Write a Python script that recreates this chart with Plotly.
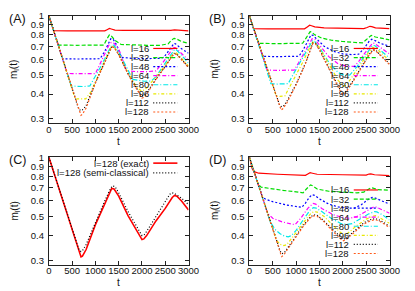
import math
import plotly.graph_objects as go

# ---------------- data ----------------
LABELS = ["l=16", "l=32", "l=48", "l=64", "l=80", "l=96", "l=112", "l=128"]
T_TICKS = [0, 500, 1000, 1500, 2000, 2500, 3000]
M_TICKS = [0.3, 0.4, 0.5, 0.6, 0.7, 0.8, 0.9, 1.0]
M_TICK_TEXT = ["0.3", "0.4", "0.5", "0.6", "0.7", "0.8", "0.9", "1"]

# Panel A
A_T = [
    [0, 100, 400, 800, 1200, 1250, 1300, 1340, 1420, 1600, 2000, 2500, 2620, 2700, 2780, 3000],
    [0, 205, 600, 1000, 1180, 1250, 1300, 1340, 1420, 1550, 1800, 2100, 2400, 2560, 2640, 2690, 2730, 2850, 3000],
    [0, 295, 600, 900, 1100, 1200, 1280, 1330, 1380, 1450, 1560, 1800, 2100, 2400, 2470, 2600, 2690, 2720, 2850, 3000],
    [0, 390, 500, 700, 1000, 1100, 1200, 1290, 1340, 1400, 1500, 1670, 1900, 2100, 2300, 2450, 2600, 2680, 2720, 2850, 3000],
    [0, 300, 480, 600, 750, 880, 1000, 1100, 1200, 1300, 1350, 1400, 1500, 1700, 1800, 2050, 2200, 2300, 2450, 2600, 2700, 2750, 2850, 3000],
    [0, 300, 560, 600, 700, 790, 900, 1000, 1100, 1200, 1300, 1350, 1400, 1500, 1700, 1900, 1990, 2050, 2100, 2300, 2500, 2650, 2700, 2750, 2850, 3000],
    [0, 300, 600, 640, 690, 740, 800, 1000, 1200, 1300, 1350, 1400, 1500, 1700, 1900, 1970, 2000, 2040, 2100, 2300, 2500, 2650, 2700, 2750, 2850, 3000],
    [0, 300, 600, 660, 690, 720, 800, 1000, 1200, 1300, 1350, 1400, 1500, 1700, 1900, 1970, 2000, 2040, 2100, 2300, 2500, 2650, 2700, 2750, 2850, 3000],
]
A_M = [
    [1, 0.84, 0.838, 0.837, 0.838, 0.85, 0.862, 0.857, 0.845, 0.842, 0.84, 0.84, 0.843, 0.847, 0.843, 0.838],
    [1, 0.71, 0.708, 0.707, 0.71, 0.765, 0.80, 0.79, 0.75, 0.715, 0.71, 0.708, 0.708, 0.72, 0.755, 0.768, 0.765, 0.74, 0.725],
    [1, 0.605, 0.603, 0.602, 0.605, 0.66, 0.73, 0.765, 0.76, 0.715, 0.615, 0.607, 0.606, 0.608, 0.615, 0.68, 0.724, 0.72, 0.68, 0.645],
    [1, 0.51, 0.508, 0.507, 0.508, 0.57, 0.64, 0.71, 0.732, 0.725, 0.68, 0.525, 0.52, 0.52, 0.525, 0.58, 0.65, 0.69, 0.688, 0.645, 0.595],
    [1, 0.597, 0.44, 0.438, 0.437, 0.44, 0.49, 0.545, 0.605, 0.675, 0.712, 0.708, 0.655, 0.53, 0.475, 0.465, 0.466, 0.49, 0.55, 0.625, 0.675, 0.668, 0.63, 0.575],
    [1, 0.597, 0.38, 0.378, 0.377, 0.378, 0.41, 0.465, 0.525, 0.595, 0.665, 0.70, 0.695, 0.64, 0.512, 0.43, 0.415, 0.42, 0.43, 0.49, 0.56, 0.635, 0.652, 0.645, 0.61, 0.555],
    [1, 0.597, 0.356, 0.336, 0.33, 0.335, 0.35, 0.458, 0.582, 0.657, 0.697, 0.692, 0.637, 0.508, 0.422, 0.397, 0.392, 0.394, 0.405, 0.478, 0.553, 0.628, 0.643, 0.638, 0.603, 0.548],
    [1, 0.597, 0.356, 0.322, 0.312, 0.316, 0.34, 0.455, 0.58, 0.655, 0.695, 0.69, 0.635, 0.505, 0.415, 0.39, 0.382, 0.385, 0.40, 0.475, 0.55, 0.625, 0.64, 0.635, 0.60, 0.545],
]

# Panel B
B_T = [
    [0, 90, 400, 800, 1180, 1240, 1290, 1330, 1400, 1600, 2000, 2450, 2520, 2580, 2620, 2700, 3000],
    [0, 200, 600, 1000, 1140, 1220, 1300, 1330, 1400, 1550, 1750, 2000, 2250, 2420, 2500, 2580, 2610, 2700, 2850, 3000],
    [0, 290, 600, 900, 1060, 1150, 1250, 1320, 1360, 1450, 1600, 1800, 2000, 2200, 2340, 2450, 2560, 2620, 2660, 2800, 3000],
    [0, 380, 600, 800, 960, 1050, 1150, 1250, 1345, 1400, 1500, 1700, 1900, 2100, 2250, 2350, 2500, 2640, 2680, 2800, 3000],
    [0, 460, 600, 700, 830, 950, 1100, 1250, 1350, 1400, 1500, 1700, 1900, 2050, 2150, 2300, 2500, 2640, 2690, 2800, 3000],
    [0, 576, 650, 760, 850, 1000, 1150, 1280, 1355, 1410, 1500, 1700, 1900, 2010, 2080, 2200, 2400, 2550, 2645, 2700, 2800, 3000],
    [0, 300, 600, 650, 695, 740, 800, 1000, 1200, 1300, 1360, 1420, 1500, 1700, 1900, 1970, 2005, 2050, 2200, 2400, 2550, 2650, 2700, 2800, 3000],
    [0, 300, 600, 650, 680, 710, 800, 1000, 1200, 1300, 1360, 1420, 1500, 1700, 1900, 1970, 2000, 2050, 2200, 2400, 2550, 2650, 2700, 2800, 3000],
]
B_M = [
    [1, 0.86, 0.858, 0.857, 0.858, 0.878, 0.895, 0.89, 0.878, 0.868, 0.862, 0.86, 0.872, 0.884, 0.88, 0.868, 0.86],
    [1, 0.724, 0.722, 0.722, 0.725, 0.775, 0.83, 0.828, 0.80, 0.77, 0.752, 0.74, 0.73, 0.728, 0.755, 0.79, 0.795, 0.78, 0.765, 0.755],
    [1, 0.622, 0.62, 0.62, 0.623, 0.67, 0.75, 0.80, 0.795, 0.755, 0.70, 0.66, 0.64, 0.635, 0.638, 0.68, 0.74, 0.76, 0.755, 0.725, 0.70],
    [1, 0.53, 0.528, 0.528, 0.53, 0.575, 0.635, 0.705, 0.765, 0.76, 0.71, 0.62, 0.57, 0.552, 0.555, 0.59, 0.66, 0.727, 0.724, 0.69, 0.64],
    [1, 0.452, 0.45, 0.45, 0.452, 0.51, 0.59, 0.685, 0.746, 0.74, 0.69, 0.58, 0.515, 0.497, 0.50, 0.55, 0.64, 0.708, 0.704, 0.67, 0.61],
    [1, 0.391, 0.39, 0.392, 0.43, 0.50, 0.585, 0.68, 0.735, 0.73, 0.69, 0.57, 0.47, 0.44, 0.445, 0.49, 0.575, 0.65, 0.69, 0.687, 0.655, 0.59],
    [1, 0.613, 0.376, 0.35, 0.345, 0.35, 0.367, 0.45, 0.575, 0.67, 0.728, 0.722, 0.675, 0.545, 0.44, 0.41, 0.405, 0.41, 0.46, 0.55, 0.63, 0.673, 0.67, 0.635, 0.57],
    [1, 0.613, 0.376, 0.347, 0.332, 0.336, 0.36, 0.445, 0.57, 0.665, 0.724, 0.718, 0.67, 0.54, 0.433, 0.403, 0.398, 0.403, 0.455, 0.545, 0.625, 0.668, 0.665, 0.63, 0.565],
]

# Panel C
C_LABELS = ["l=128 (exact)", "l=128 (semi-classical)"]
C_T_EXACT = [0, 300, 600, 660, 690, 720, 800, 1000, 1200, 1300, 1350, 1400, 1500, 1700, 1900, 1970, 2000, 2040, 2100, 2300, 2500, 2650, 2700, 2750, 2850, 3000]
C_M_EXACT = [1, 0.597, 0.356, 0.322, 0.312, 0.315, 0.34, 0.455, 0.58, 0.655, 0.695, 0.69, 0.635, 0.505, 0.415, 0.39, 0.382, 0.385, 0.40, 0.475, 0.55, 0.625, 0.64, 0.635, 0.60, 0.54]
C_T_SEMI = [0, 300, 600, 650, 690, 730, 800, 1000, 1200, 1300, 1360, 1420, 1500, 1700, 1900, 1970, 2000, 2050, 2100, 2300, 2500, 2600, 2650, 2700, 2850, 3000]
C_M_SEMI = [1, 0.60, 0.362, 0.338, 0.332, 0.338, 0.36, 0.47, 0.60, 0.675, 0.715, 0.71, 0.66, 0.53, 0.435, 0.405, 0.40, 0.405, 0.42, 0.50, 0.59, 0.65, 0.66, 0.655, 0.62, 0.575]

# Panel D
D_T = [
    [0, 30, 60, 100, 200, 600, 1200, 1260, 1300, 1350, 1450, 2000, 2500, 2560, 2600, 2680, 3000],
    [0, 190, 250, 400, 700, 1000, 1150, 1220, 1310, 1360, 1450, 1700, 2000, 2300, 2450, 2530, 2600, 2650, 2750, 3000],
    [0, 280, 350, 500, 800, 1000, 1120, 1200, 1280, 1340, 1400, 1500, 1700, 1900, 2100, 2250, 2400, 2550, 2630, 2700, 2850, 3000],
    [0, 390, 500, 700, 900, 980, 1100, 1250, 1365, 1420, 1550, 1800, 2000, 2150, 2300, 2500, 2670, 2720, 2850, 3000],
    [0, 450, 550, 650, 750, 830, 900, 1000, 1150, 1300, 1370, 1430, 1550, 1750, 1950, 2080, 2200, 2400, 2550, 2680, 2730, 2850, 3000],
    [0, 500, 580, 650, 740, 800, 900, 1050, 1200, 1320, 1380, 1450, 1600, 1800, 1950, 2030, 2100, 2300, 2500, 2650, 2700, 2800, 3000],
    [0, 300, 600, 660, 700, 750, 850, 1000, 1150, 1300, 1385, 1450, 1600, 1800, 1950, 2010, 2070, 2250, 2450, 2600, 2700, 2800, 3000],
    [0, 300, 600, 650, 690, 730, 850, 1000, 1150, 1300, 1385, 1450, 1600, 1800, 1950, 2000, 2060, 2250, 2450, 2600, 2700, 2800, 3000],
]
D_M = [
    [1, 0.93, 0.875, 0.845, 0.83, 0.82, 0.81, 0.825, 0.835, 0.83, 0.82, 0.815, 0.812, 0.822, 0.823, 0.815, 0.807],
    [1, 0.73, 0.705, 0.695, 0.68, 0.667, 0.66, 0.69, 0.724, 0.715, 0.69, 0.672, 0.666, 0.66, 0.665, 0.685, 0.70, 0.697, 0.685, 0.68],
    [1, 0.625, 0.612, 0.595, 0.572, 0.562, 0.557, 0.585, 0.625, 0.645, 0.64, 0.615, 0.578, 0.56, 0.552, 0.552, 0.575, 0.612, 0.625, 0.62, 0.598, 0.578],
    [1, 0.52, 0.49, 0.47, 0.458, 0.455, 0.49, 0.55, 0.583, 0.578, 0.55, 0.51, 0.495, 0.49, 0.50, 0.535, 0.561, 0.558, 0.54, 0.52],
    [1, 0.468, 0.43, 0.41, 0.398, 0.394, 0.40, 0.425, 0.48, 0.54, 0.555, 0.552, 0.53, 0.49, 0.462, 0.456, 0.46, 0.49, 0.515, 0.53, 0.528, 0.51, 0.48],
    [1, 0.43, 0.38, 0.362, 0.356, 0.36, 0.385, 0.43, 0.48, 0.52, 0.53, 0.527, 0.50, 0.45, 0.415, 0.406, 0.41, 0.45, 0.485, 0.502, 0.505, 0.492, 0.462],
    [1, 0.60, 0.36, 0.333, 0.324, 0.328, 0.355, 0.40, 0.45, 0.497, 0.51, 0.507, 0.475, 0.425, 0.392, 0.384, 0.388, 0.425, 0.465, 0.483, 0.488, 0.478, 0.447],
    [1, 0.60, 0.362, 0.335, 0.313, 0.318, 0.35, 0.395, 0.445, 0.492, 0.505, 0.502, 0.47, 0.418, 0.383, 0.376, 0.38, 0.418, 0.458, 0.477, 0.482, 0.472, 0.44],
]

# ---------------- styles ----------------
COLORS = ["#ff0000", "#00dd00", "#0000ff", "#ff00ff", "#00e8e8", "#e8e800", "#000000", "#ff5a1a"]
DASHES = ["solid", "4px,2px", "2px,2px", "4px,2px,1px,2px", "5px,2px,1px,2px", "3px,2px,1px,2px", "1px,2px", "2px,2px"]
WIDTHS = [1.2, 1.2, 1.2, 1.2, 1.2, 1.2, 1.2, 1.2]
FONT = "Liberation Sans, Arial, sans-serif"
W, H = 415, 291

def px(x):
    return x / W

def py(y):
    return 1 - y / H

# panel frames in pixels: (left, right, top, bottom)
FRAMES = {
    "A": (47.5, 192, 10, 120),
    "B": (255, 400, 10, 120),
    "C": (47.5, 192, 155, 265),
    "D": (255, 400, 155, 265),
}
AXES = {"A": ("x", "y"), "B": ("x2", "y2"), "C": ("x3", "y3"), "D": ("x4", "y4")}

fig = go.Figure()

def add_series(panel, ts, ms, names):
    xa, ya = AXES[panel]
    for i, (t, m) in enumerate(zip(ts, ms)):
        fig.add_trace(go.Scatter(x=t, y=m, mode="lines", name=names[i], showlegend=False,
                                 xaxis=xa, yaxis=ya,
                                 line=dict(color=COLORS[i], dash=DASHES[i], width=WIDTHS[i])))

add_series("A", A_T, A_M, LABELS)
add_series("B", B_T, B_M, LABELS)
add_series("D", D_T, D_M, LABELS)
fig.add_trace(go.Scatter(x=C_T_EXACT, y=C_M_EXACT, mode="lines", name=C_LABELS[0], showlegend=False,
                         xaxis="x3", yaxis="y3", line=dict(color="#ff0000", width=1.6)))
fig.add_trace(go.Scatter(x=C_T_SEMI, y=C_M_SEMI, mode="lines", name=C_LABELS[1], showlegend=False,
                         xaxis="x3", yaxis="y3", line=dict(color="#000000", dash="1px,2px", width=1.2)))

annotations = []
shapes = []
layout = {}
for k, (l, r, t, b) in FRAMES.items():
    xa, ya = AXES[k]
    xkey = "xaxis" if xa == "x" else "xaxis" + xa[1:]
    ykey = "yaxis" if ya == "y" else "yaxis" + ya[1:]
    layout[xkey] = dict(domain=[px(l), px(r)], range=[0, 3000], anchor=ya,
                        tickvals=T_TICKS, ticks="inside", ticklen=4, tickcolor="#222",
                        mirror="allticks", showline=True, linecolor="#222", linewidth=1,
                        showgrid=False, zeroline=False, ticklabelstandoff=-3,
                        tickfont=dict(family=FONT, size=9.5, color="#111"))
    layout[ykey] = dict(domain=[py(b), py(t)], type="log",
                        range=[math.log10(0.285), 0], anchor=xa,
                        tickvals=M_TICKS, ticktext=M_TICK_TEXT, ticks="inside", ticklen=4,
                        tickcolor="#222", mirror="allticks", showline=True, linecolor="#222",
                        linewidth=1, showgrid=False, zeroline=False, ticklabelstandoff=2,
                        tickfont=dict(family=FONT, size=9.5, color="#111"))
    # panel label
    annotations.append(dict(text="(" + k + ")", x=px(l - 33), y=py(t + 3), xref="paper", yref="paper",
                            showarrow=False, xanchor="center", yanchor="middle",
                            font=dict(family=FONT, size=12.5, color="#111")))
    # axis titles
    annotations.append(dict(text="m<sub>l</sub>(t)", x=px(l - 35.5), y=py((t + b) / 2), xref="paper",
                            yref="paper", showarrow=False, textangle=-90, xanchor="center",
                            yanchor="middle", font=dict(family=FONT, size=10, color="#111")))
    annotations.append(dict(text="t", x=px((l + r) / 2), y=py(b + 18.5), xref="paper", yref="paper",
                            showarrow=False, xanchor="center", yanchor="middle",
                            font=dict(family=FONT, size=10, color="#111")))

# legends (text then sample, gnuplot style)
def add_key(l, t, labels, colors, dashes, widths, y0, dy):
    for i, lab in enumerate(labels):
        yy = t + y0 + i * dy
        annotations.append(dict(text=lab, x=px(l + 105.5), y=py(yy), xref="paper", yref="paper",
                                showarrow=False, xanchor="right", yanchor="middle",
                                font=dict(family=FONT, size=9.5, color="#111")))
        shapes.append(dict(type="line", xref="paper", yref="paper",
                           x0=px(l + 108), x1=px(l + 133), y0=py(yy), y1=py(yy),
                           line=dict(color=colors[i], dash=dashes[i], width=widths[i])))

for k in ["A", "B", "D"]:
    l, r, t, b = FRAMES[k]
    add_key(l, t, LABELS, COLORS, DASHES, WIDTHS, 33.5, 9.3)
l, r, t, b = FRAMES["C"]
add_key(l, t, C_LABELS, ["#ff0000", "#000000"], ["solid", "1px,2px"], [1.6, 1.2], 6.0, 10.0)

fig.update_layout(width=W, height=H, margin=dict(l=0, r=0, t=0, b=0),
                  paper_bgcolor="white", plot_bgcolor="white",
                  annotations=annotations, shapes=shapes, showlegend=False, **layout)
fig.write_html("out.html", config={"displayModeBar": False},
               post_script="document.body.style.margin='0px';document.body.style.padding='0px';")
